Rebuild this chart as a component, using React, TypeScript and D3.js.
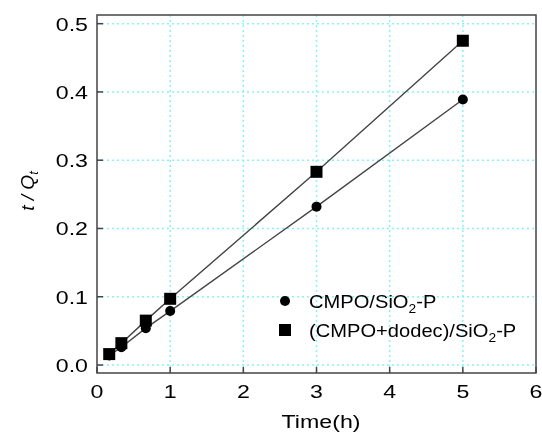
import React, { useRef, useEffect } from 'react';
import * as d3 from 'd3';

const timeH = [0.167, 0.333, 0.667, 1, 3, 5];
const cmpoVals = [0.014, 0.026, 0.054, 0.079, 0.232, 0.389];
const dodecVals = [0.016, 0.032, 0.065, 0.097, 0.283, 0.475];
const xTicks = [0, 1, 2, 3, 4, 5, 6];
const yTicks = [0, 0.1, 0.2, 0.3, 0.4, 0.5];

const width = 542;
const height = 438;
const margin = { top: 15, right: 6, bottom: 65, left: 97 };

function App() {
  const svgRef = useRef<SVGSVGElement>(null);

  useEffect(() => {
    const svg = d3.select(svgRef.current);
    svg.selectAll('*').remove();

    const x = d3.scaleLinear().domain([0, 6]).range([margin.left, width - margin.right]);
    const y = d3.scaleLinear().domain([-0.0117, 0.5127]).range([height - margin.bottom, margin.top]);
    const font = 'Arial, "Liberation Sans", sans-serif';
    const sx = 1.22; // the picture's text is a bit wide

    // grid
    const grid = svg.append('g').attr('stroke', '#88f4f4').attr('stroke-width', 1.5).attr('stroke-dasharray', '2,3');
    grid.selectAll('line.h').data(yTicks).join('line')
      .attr('x1', x(0)).attr('x2', x(6))
      .attr('y1', d => y(d)).attr('y2', d => y(d));
    grid.selectAll('line.v').data(xTicks.slice(1, -1)).join('line')
      .attr('class', 'v')
      .attr('x1', d => x(d)).attr('x2', d => x(d))
      .attr('y1', y.range()[1]).attr('y2', y.range()[0]);

    // frame
    svg.append('rect')
      .attr('x', x(0)).attr('y', margin.top)
      .attr('width', x(6) - x(0)).attr('height', y.range()[0] - margin.top)
      .attr('fill', 'none').attr('stroke', '#444').attr('stroke-width', 1.5);

    // ticks (inward)
    svg.append('g').selectAll('line').data(xTicks).join('line')
      .attr('x1', d => x(d)).attr('x2', d => x(d))
      .attr('y1', y.range()[0]).attr('y2', y.range()[0] - 6)
      .attr('stroke', '#444').attr('stroke-width', 1.5);
    svg.append('g').selectAll('line').data(yTicks).join('line')
      .attr('x1', x(0)).attr('x2', x(0) + 6)
      .attr('y1', d => y(d)).attr('y2', d => y(d))
      .attr('stroke', '#444').attr('stroke-width', 1.5);

    svg.append('g').selectAll('text').data(xTicks).join('text')
      .attr('transform', d => `translate(${x(d)},398) scale(${sx},1)`)
      .attr('text-anchor', 'middle')
      .style('font-family', font).style('font-size', '19px')
      .text(d => d);
    svg.append('g').selectAll('text').data(yTicks).join('text')
      .attr('transform', d => `translate(88,${y(d) + 7}) scale(${sx},1)`)
      .attr('text-anchor', 'end')
      .style('font-family', font).style('font-size', '19px')
      .text(d => d3.format('.1f')(d));

    // axis titles
    svg.append('text')
      .attr('transform', `translate(321,428) scale(${sx},1)`)
      .attr('text-anchor', 'middle')
      .style('font-family', font).style('font-size', '19px')
      .text('Time(h)');
    const yl = svg.append('text')
      .attr('transform', 'translate(34,191) rotate(-90)')
      .attr('text-anchor', 'middle')
      .style('font-family', font).style('font-size', '19px').style('font-style', 'italic');
    yl.append('tspan').text('t / Q');
    yl.append('tspan').attr('dy', 4).style('font-size', '13px').text('t');

    const line = d3.line<number>().x((d, i) => x(timeH[i])).y(d => y(d));
    [cmpoVals, dodecVals].forEach(vals => {
      svg.append('path').attr('d', line(vals))
        .attr('fill', 'none').attr('stroke', '#444').attr('stroke-width', 1.4);
    });

    svg.append('g').selectAll('circle').data(cmpoVals).join('circle')
      .attr('cx', (d, i) => x(timeH[i])).attr('cy', d => y(d)).attr('r', 5)
      .attr('fill', '#000');
    svg.append('g').selectAll('rect').data(dodecVals).join('rect')
      .attr('x', (d, i) => x(timeH[i]) - 6).attr('y', d => y(d) - 6)
      .attr('width', 12).attr('height', 12)
      .attr('fill', '#000');

    // legend
    const lg = svg.append('g').style('font-family', font).style('font-size', '19px');
    lg.append('circle').attr('cx', 285).attr('cy', 301).attr('r', 5).attr('fill', '#000');
    lg.append('rect').attr('x', 279).attr('y', 324).attr('width', 12).attr('height', 12).attr('fill', '#000');
    const t1 = lg.append('text').attr('transform', 'translate(309,308) scale(1.06,1)');
    t1.append('tspan').text('CMPO/SiO');
    t1.append('tspan').attr('dy', 5).style('font-size', '13px').text('2');
    t1.append('tspan').attr('dy', -5).text('-P');
    const t2 = lg.append('text').attr('transform', 'translate(309,337) scale(1.06,1)');
    t2.append('tspan').text('(CMPO+dodec)/SiO');
    t2.append('tspan').attr('dy', 5).style('font-size', '13px').text('2');
    t2.append('tspan').attr('dy', -5).text('-P');
  }, []);

  return (
    <div style={{ position: 'fixed', left: 0, top: 0, width: width, height: height }}>
      <svg ref={svgRef} width={width} height={height} style={{ display: 'block' }}></svg>
    </div>
  );
}

export default App;
